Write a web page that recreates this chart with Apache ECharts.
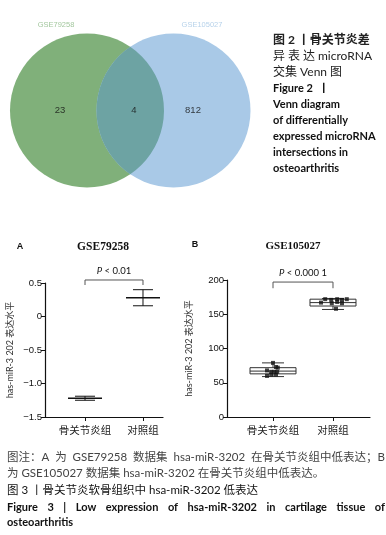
<!DOCTYPE html>
<html>
<head>
<meta charset="utf-8">
<script src="https://cdn.jsdelivr.net/npm/echarts@6/dist/echarts.min.js"></script>
<style>
html, body { margin: 0; padding: 0; background: #fff; }
#main { width: 386px; height: 535px; }
</style>
</head>
<body>
<div id="main"></div>
<script>
// Figure 2: Venn
var vennSets = ['GSE79258', 'GSE105027'];
var vennCounts = [23, 4, 812]; // GSE79258 only, both, GSE105027 only

// Figure 3A: GSE79258, mean with error bar
var groups = ['骨关节炎组', '对照组'];
var meanA = [-1.22, 0.28];
var lowA = [-1.25, 0.16];
var highA = [-1.19, 0.40];
var yTicksA = [-1.5, 0.5, 0.5]; // min, max, interval

// Figure 3B: GSE105027, box plot + points
var boxMin = [59, 157];
var boxQ1 = [63, 162];
var boxMed = [67, 167];
var boxQ3 = [72, 172];
var boxMax = [79, 173];
var pointsB1 = [79, 73, 72, 68, 66, 66, 66, 62, 62, 60];
var jitterB1 = [0, 0.05, 0.08, -0.1, -0.03, 0.02, 0.07, -0.03, 0.05, -0.1];
var pointsB2 = [172, 171, 172, 171, 172, 167, 166, 168, 166, 158];
var jitterB2 = [-0.13, -0.03, 0.07, 0.15, 0.23, -0.2, -0.02, 0.07, 0.15, 0.05];
var yTicksB = [0, 200, 50];

var pLabels = ['0.01', '0.000 1'];

var chart = echarts.init(document.getElementById('main'));

var cjk = '"Noto Sans CJK SC"';
var sans = 'Lato, ' + cjk;
var vennColors = ['#80b07a', '#a9c9e7'];

function renderCircle(params, api) {
  var c = api.coord([api.value(0), api.value(1)]);
  var r = api.size([api.value(2), 0])[0];
  return {
    type: 'circle',
    shape: { cx: c[0], cy: c[1], r: r },
    style: { fill: vennColors[params.dataIndex] }
  };
}

function renderLens(params, api) {
  var c1 = api.coord([api.value(0), api.value(1)]);
  var c2 = api.coord([api.value(2), api.value(3)]);
  var r = api.size([api.value(4), 0])[0];
  var a = (c2[0] - c1[0]) / 2;
  var h = Math.sqrt(r * r - a * a);
  var tx = c1[0] + a, ty = c1[1] - h, by = c1[1] + h;
  var d = 'M' + tx + ' ' + ty + ' A' + r + ' ' + r + ' 0 0 1 ' + tx + ' ' + by +
    ' A' + r + ' ' + r + ' 0 0 1 ' + tx + ' ' + ty + ' Z';
  return { type: 'path', shape: { pathData: d }, style: { fill: '#6da3a3' } };
}

function renderMeanSd(params, api) {
  var x = api.value(0);
  var m = api.coord([x, api.value(1)]);
  var lo = api.coord([x, api.value(2)]);
  var hi = api.coord([x, api.value(3)]);
  var st = { stroke: '#111', lineWidth: 1 };
  return {
    type: 'group',
    children: [
      { type: 'line', shape: { x1: m[0] - 17, y1: m[1], x2: m[0] + 17, y2: m[1] }, style: { stroke: '#111', lineWidth: 1.5 } },
      { type: 'line', shape: { x1: lo[0], y1: lo[1], x2: hi[0], y2: hi[1] }, style: st },
      { type: 'line', shape: { x1: lo[0] - 10, y1: lo[1], x2: lo[0] + 10, y2: lo[1] }, style: st },
      { type: 'line', shape: { x1: hi[0] - 10, y1: hi[1], x2: hi[0] + 10, y2: hi[1] }, style: st }
    ]
  };
}

function renderBox(params, api) {
  var x = api.value(0);
  var pMin = api.coord([x, api.value(1)]);
  var pQ1 = api.coord([x, api.value(2)]);
  var pMed = api.coord([x, api.value(3)]);
  var pQ3 = api.coord([x, api.value(4)]);
  var pMax = api.coord([x, api.value(5)]);
  var w = 23, cw = 11;
  var st = { stroke: '#333', lineWidth: 1, fill: null };
  return {
    type: 'group',
    children: [
      { type: 'rect', shape: { x: pQ3[0] - w, y: pQ3[1], width: 2 * w, height: pQ1[1] - pQ3[1] }, style: { stroke: '#333', lineWidth: 1, fill: '#fff' } },
      { type: 'line', shape: { x1: pMed[0] - w, y1: pMed[1], x2: pMed[0] + w, y2: pMed[1] }, style: st },
      { type: 'line', shape: { x1: pMax[0], y1: pMax[1], x2: pQ3[0], y2: pQ3[1] }, style: st },
      { type: 'line', shape: { x1: pMin[0], y1: pMin[1], x2: pQ1[0], y2: pQ1[1] }, style: st },
      { type: 'line', shape: { x1: pMax[0] - cw, y1: pMax[1], x2: pMax[0] + cw, y2: pMax[1] }, style: st },
      { type: 'line', shape: { x1: pMin[0] - cw, y1: pMin[1], x2: pMin[0] + cw, y2: pMin[1] }, style: st }
    ]
  };
}

function renderBracket(params, api) {
  var l = api.coord([api.value(0), api.value(2)]);
  var r = api.coord([api.value(1), api.value(2)]);
  var legL = api.coord([api.value(0), api.value(3)]);
  var legR = api.coord([api.value(1), api.value(3)]);
  return {
    type: 'group',
    children: [
      { type: 'polyline', shape: { points: [legL, l, r, legR] }, style: { stroke: '#555', lineWidth: 1, fill: null } },
      {
        type: 'text',
        x: (l[0] + r[0]) / 2, y: l[1] - 9,
        style: {
          text: '{i|P} < ' + pLabels[params.seriesIndex === 4 ? 0 : 1],
          font: '9.5px ' + sans, fill: '#111', align: 'center', verticalAlign: 'middle',
          rich: { i: { fontStyle: 'italic', fontSize: 9.5, fontFamily: 'Lato' } }
        }
      }
    ]
  };
}

var yName = 'has-miR-3 202 表达水平';

function catAxis(grid, min, max) {
  return {
    type: 'value', gridIndex: grid, min: min, max: max,
    axisLine: { onZero: false, lineStyle: { color: '#111', width: 1.2 } },
    axisTick: { length: 4, lineStyle: { color: '#111' }, customValues: [0, 1] },
    axisLabel: { customValues: [0, 1], color: '#222', fontSize: 10.5, fontFamily: cjk, margin: 8,
      formatter: function (v) { return groups[v]; } },
    splitLine: { show: false }
  };
}

function valAxis(grid, ticks, gap, fmt) {
  return {
    type: 'value', gridIndex: grid, min: ticks[0], max: ticks[1], interval: ticks[2],
    axisLine: { show: true, onZero: false, lineStyle: { color: '#111', width: 1.2 } },
    axisTick: { show: true, length: 4, lineStyle: { color: '#111' } },
    axisLabel: { formatter: fmt, color: '#111', fontSize: 9.5, fontFamily: 'Liberation Sans', margin: 3 },
    splitLine: { show: false },
    name: yName, nameLocation: 'middle', nameRotate: 90, nameGap: gap,
    nameTextStyle: { color: '#333', fontSize: 9, fontFamily: sans }
  };
}

// spread words of a caption line over a given width
var measureCtx = document.createElement('canvas').getContext('2d');
function justified(text, x, y, width, font, fill) {
  var words = text.split(/ +/);
  measureCtx.font = font;
  var widths = words.map(function (w) { return measureCtx.measureText(w).width; });
  var total = widths.reduce(function (s, w) { return s + w; }, 0);
  var gap = (width - total) / (words.length - 1);
  var cx = x;
  return words.map(function (w, i) {
    var el = { type: 'text', x: cx, y: y, style: { text: w, font: font, fill: fill, verticalAlign: 'middle' } };
    cx += widths[i] + gap;
    return el;
  });
}

function line(text, x, y, font, fill) {
  return { type: 'text', x: x, y: y, style: { text: text, font: font, fill: fill, verticalAlign: 'middle' } };
}

var capCn = '12px ' + sans;
var capEn = 'bold 11px ' + sans;

var graphics = [
  { type: 'text', x: 56, y: 25, style: { text: vennSets[0], font: '7.5px Liberation Sans', fill: '#a3c79e', align: 'center', verticalAlign: 'middle' } },
  { type: 'text', x: 202, y: 25, style: { text: vennSets[1], font: '7.5px Liberation Sans', fill: '#b7d2ea', align: 'center', verticalAlign: 'middle' } },

  line('图 2 丨骨关节炎差', 273, 40, 'bold 12px ' + sans, '#222'),
  line('交集 Venn 图', 273, 72, capCn, '#222'),
  line('Figure 2  丨', 273, 88, capEn, '#111'),
  line('Venn diagram', 273, 104, capEn, '#111'),
  line('of differentially', 273, 120, capEn, '#111'),
  line('expressed microRNA', 273, 136, capEn, '#111'),
  line('intersections in', 273, 152, capEn, '#111'),
  line('osteoarthritis', 273, 168, capEn, '#111'),

  { type: 'text', x: 20, y: 247, style: { text: 'A', font: 'bold 9px Liberation Sans', fill: '#111', align: 'center', verticalAlign: 'middle' } },
  { type: 'text', x: 103, y: 247, style: { text: 'GSE79258', font: 'bold 11.5px Liberation Serif', fill: '#111', align: 'center', verticalAlign: 'middle' } },
  { type: 'text', x: 195, y: 245, style: { text: 'B', font: 'bold 9px Liberation Sans', fill: '#111', align: 'center', verticalAlign: 'middle' } },
  { type: 'text', x: 293, y: 246, style: { text: 'GSE105027', font: 'bold 11px Liberation Serif', fill: '#111', align: 'center', verticalAlign: 'middle' } },

  line('为 GSE105027 数据集 hsa-miR-3202 在骨关节炎组中低表达。', 7, 473, '11.5px ' + sans, '#444'),
  line('图 3 丨骨关节炎软骨组织中 hsa-miR-3202 低表达', 7, 490, '11.5px ' + sans, '#111'),
  line('osteoarthritis', 7, 522, capEn, '#111')
].concat(
  justified('异 表 达 microRNA', 273, 56, 99, capCn, '#222'),
  justified('图注：A 为 GSE79258 数据集 hsa-miR-3202 在骨关节炎组中低表达；B', 7, 457, 378, '11.5px ' + sans, '#444'),
  justified('Figure 3 | Low expression of hsa-miR-3202 in cartilage tissue of', 7, 507, 378, capEn, '#111')
);

var option = {
  animation: false,
  backgroundColor: '#fff',
  grid: [
    { left: 10, top: 33, width: 241, height: 155 },
    { left: 45, top: 283, width: 118, height: 134 },
    { left: 227, top: 280, width: 143, height: 137 }
  ],
  xAxis: [
    { type: 'value', gridIndex: 0, min: 0, max: 241, show: false },
    catAxis(1, -0.69, 1.345),
    catAxis(2, -0.767, 1.617)
  ],
  yAxis: [
    { type: 'value', gridIndex: 0, min: 0, max: 155, show: false },
    valAxis(1, yTicksA, 30, function (v) { return v === 0 ? '0' : v.toFixed(1).replace('-', '\u2212'); }),
    valAxis(2, yTicksB, 33, function (v) { return String(v); })
  ],
  series: [
    {
      type: 'custom', xAxisIndex: 0, yAxisIndex: 0, renderItem: renderCircle,
      data: [[77, 77.5, 77], [163.5, 77.5, 77]], silent: true
    },
    {
      type: 'custom', xAxisIndex: 0, yAxisIndex: 0, renderItem: renderLens,
      data: [[77, 77.5, 163.5, 77.5, 77]], silent: true
    },
    {
      type: 'scatter', xAxisIndex: 0, yAxisIndex: 0, symbolSize: 0,
      data: vennCounts.map(function (c, i) { return [[50, 124, 183][i], 77.5, c]; }),
      label: { show: true, position: 'inside', color: '#111', fontSize: 9.5, fontFamily: 'Liberation Sans',
        formatter: function (p) { return p.value[2]; } }
    },
    {
      type: 'custom', xAxisIndex: 1, yAxisIndex: 1, renderItem: renderMeanSd, clip: false,
      data: meanA.map(function (m, i) { return [i, m, lowA[i], highA[i]]; })
    },
    {
      type: 'custom', xAxisIndex: 1, yAxisIndex: 1, renderItem: renderBracket, clip: false,
      data: [[0, 1, 0.545, 0.47]]
    },
    {
      type: 'custom', xAxisIndex: 2, yAxisIndex: 2, renderItem: renderBox, clip: false,
      data: boxMed.map(function (m, i) { return [i, boxMin[i], boxQ1[i], m, boxQ3[i], boxMax[i]]; })
    },
    {
      type: 'custom', xAxisIndex: 2, yAxisIndex: 2, renderItem: renderBracket, clip: false,
      data: [[0, 1, 197, 188]]
    },
    {
      type: 'scatter', xAxisIndex: 2, yAxisIndex: 2, symbol: 'rect', symbolSize: 4,
      itemStyle: { color: '#111' }, z: 5,
      data: pointsB1.map(function (v, i) { return [jitterB1[i], v]; })
        .concat(pointsB2.map(function (v, i) { return [1 + jitterB2[i], v]; }))
    }
  ],
  graphic: graphics
};

chart.setOption(option);
</script>
</body>
</html>
